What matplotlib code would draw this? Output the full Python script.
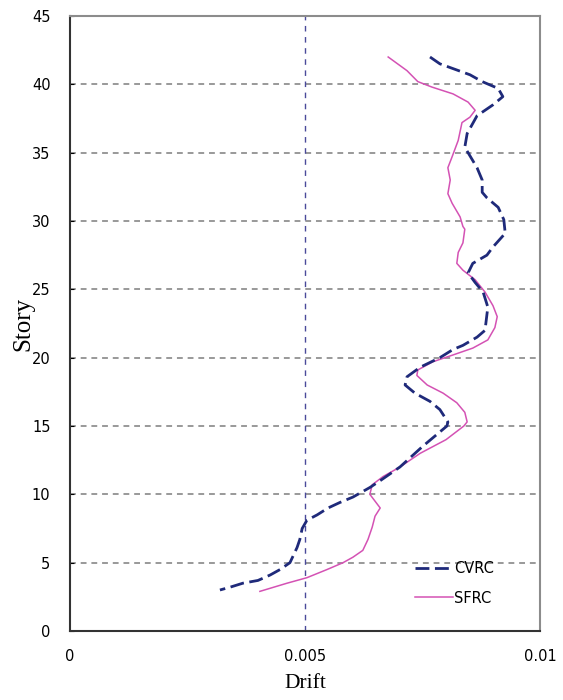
import numpy as np
import matplotlib
matplotlib.use('Agg')
import matplotlib.pyplot as plt

# 层间位移角 (Drift) vs 楼层 (Story)
cvrc_story = [42.0, 41.5, 40.7, 40.2, 39.7, 39.1, 38.5, 37.7, 36.4, 35.4, 33.9, 33.0,
              32.1, 31.7, 31.0, 30.1, 29.1, 28.1, 27.5, 26.9, 26.2, 25.5, 24.8, 23.7,
              22.0, 21.5, 20.9, 20.6, 20.0, 19.3, 18.6, 18.0, 17.4, 16.8, 16.2, 15.3,
              15.0, 13.5, 12.0, 11.0, 10.5, 9.8, 9.4, 9.0, 8.5, 8.1, 7.5, 6.7, 6.1,
              5.0, 4.5, 4.1, 3.7, 3.5, 3.2, 3.0]
cvrc_drift = [0.00766, 0.00787, 0.00851, 0.00877, 0.00911, 0.00921, 0.00900, 0.00866,
              0.00845, 0.00840, 0.00866, 0.00877, 0.00877, 0.00887, 0.00911, 0.00923,
              0.00926, 0.00900, 0.00887, 0.00857, 0.00847, 0.00862, 0.00879, 0.00889,
              0.00883, 0.00866, 0.00836, 0.00815, 0.00787, 0.00745, 0.00717, 0.00713,
              0.00734, 0.00766, 0.00787, 0.00804, 0.00802, 0.00750, 0.00702, 0.00660,
              0.00638, 0.00602, 0.00574, 0.00549, 0.00526, 0.00504, 0.00494, 0.00489,
              0.00483, 0.00468, 0.00447, 0.00426, 0.00400, 0.00368, 0.00340, 0.00319]

sfrc_story = [42.0, 41.0, 40.2, 39.8, 39.3, 38.7, 38.1, 37.6, 37.2, 35.9, 34.7, 33.9,
              33.0, 32.0, 31.3, 30.3, 29.6, 29.4, 28.4, 27.7, 26.9, 26.4, 25.7, 24.8,
              23.8, 23.0, 22.2, 21.3, 20.7, 20.2, 19.7, 19.1, 18.7, 18.0, 17.4, 16.7,
              16.0, 15.3, 15.0, 14.0, 13.0, 12.0, 11.3, 10.7, 10.0, 9.5, 9.0, 8.4,
              7.6, 6.7, 5.9, 5.4, 5.0, 4.5, 3.9, 3.5, 2.9]
sfrc_drift = [0.00677, 0.00717, 0.00740, 0.00770, 0.00815, 0.00847, 0.00862, 0.00851,
              0.00834, 0.00826, 0.00813, 0.00804, 0.00809, 0.00804, 0.00813, 0.00830,
              0.00836, 0.00840, 0.00836, 0.00826, 0.00823, 0.00836, 0.00862, 0.00883,
              0.00900, 0.00909, 0.00904, 0.00889, 0.00857, 0.00815, 0.00772, 0.00740,
              0.00738, 0.00760, 0.00794, 0.00823, 0.00840, 0.00845, 0.00838, 0.00800,
              0.00745, 0.00702, 0.00666, 0.00643, 0.00638, 0.00649, 0.00660, 0.00649,
              0.00643, 0.00634, 0.00623, 0.00602, 0.00581, 0.00547, 0.00504, 0.00462,
              0.00404]

x_ticks = [0, 0.005, 0.01]
x_tick_labels = ['0', '0.005', '0.01']
y_ticks = [0, 5, 10, 15, 20, 25, 30, 35, 40, 45]

fig = plt.figure(figsize=(5.63, 7.0), dpi=100)
ax = fig.add_axes([70/563, 69/700, 470/563, 615/700])

# 网格：横向灰色虚线，x=0.005 处蓝色虚线
for yv in y_ticks[1:-1]:
    ax.axhline(yv, color='#999999', lw=1.4, ls=(0, (3, 2.5)), zorder=1)
ax.axvline(0.005, color='#4a4a9a', lw=1.0, ls=(0, (4, 4)), zorder=1)

ax.plot(cvrc_drift, cvrc_story, color='#1f2a7a', lw=2.0, ls=(0, (5, 2)), label='CVRC', zorder=3)
ax.plot(sfrc_drift, sfrc_story, color='#d452b4', lw=1.1, label='SFRC', zorder=2)

ax.set_xlim(0, 0.01); ax.set_ylim(0, 45)
ax.set_xticks(x_ticks); ax.set_xticklabels(x_tick_labels)
ax.set_yticks(y_ticks)
ax.tick_params(axis='x', length=0, pad=13, labelsize=10.5)
ax.tick_params(axis='y', direction='in', length=3, pad=14, labelsize=10.5)

for s in ['top', 'right']:
    ax.spines[s].set_color('#8c8c8c'); ax.spines[s].set_linewidth(1.5)
for s in ['left', 'bottom']:
    ax.spines[s].set_color('#333333'); ax.spines[s].set_linewidth(1.5)

ax.set_xlabel('Drift', family='Liberation Serif', fontsize=15.5, labelpad=7)
ax.set_ylabel('Story', family='Liberation Serif', fontsize=18, labelpad=-2)

ax.legend(loc='lower right', frameon=False, fontsize=10.5, handlelength=2.6,
          handletextpad=0.1, labelspacing=1.0, bbox_to_anchor=(0.93, 0.02))

plt.savefig('out.png', dpi=100)
